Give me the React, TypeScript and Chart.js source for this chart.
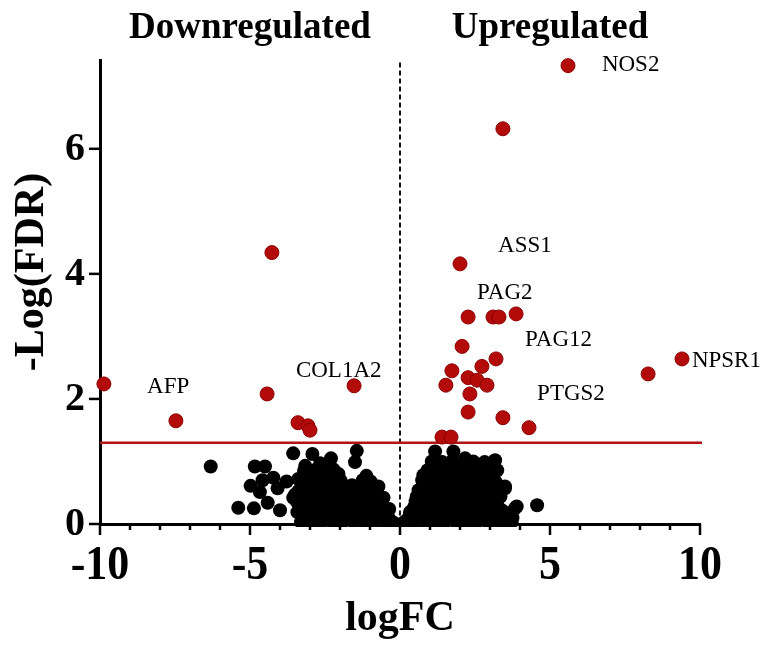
import { useEffect, useRef } from "react";
import { Chart, registerables } from "chart.js";

Chart.register(...registerables);

// ---------- data ----------
const xTickValues = [-10, -5, 0, 5, 10];
const yTickValues = [0, 2, 4, 6];
const fdrThreshold = 1.3;

const downregulated: [number, number][] = [
  [-9.87, 2.24], [-7.47, 1.65], [-4.27, 4.34], [-4.43, 2.08],
  [-3.4, 1.62], [-3.07, 1.57], [-3.0, 1.5], [-1.53, 2.21],
];

const upregulated: [number, number][] = [
  [5.6, 7.33], [3.43, 6.32], [2.0, 4.16], [2.27, 3.31], [3.1, 3.31], [3.3, 3.31],
  [3.87, 3.36], [2.07, 2.84], [3.2, 2.64], [1.73, 2.45], [2.73, 2.52], [1.53, 2.22],
  [2.27, 2.34], [2.57, 2.3], [2.9, 2.22], [2.33, 2.08], [2.27, 1.79], [3.43, 1.7],
  [4.3, 1.54], [1.4, 1.39], [1.7, 1.39], [8.27, 2.4], [9.4, 2.64],
];

const notSignificantLeft: [number, number][] = [
  [-6.31, 0.92], [-5.39, 0.26], [-4.87, 0.25], [-4.84, 0.92], [-4.5, 0.92], [-4.98, 0.61],
  [-4.58, 0.7], [-4.22, 0.74], [-4.67, 0.51], [-4.41, 0.34], [-4.0, 0.22], [-4.08, 0.57],
  [-3.78, 0.68], [-3.56, 1.13], [-2.92, 1.12], [-3.39, 0.72], [-3.5, 0.47], [-2.3, 1.05],
  [-1.44, 1.17], [-1.5, 0.99], [-3.16, 0.93], [-1.12, 0.77], [-0.72, 0.6], [-0.55, 0.42],
  [-0.36, 0.24], [-3.56, 0.42], [-2.89, 0.01],
  [-3.3, 0.03], [-2.97, 0.02], [-2.61, 0.04], [-2.27, 0.03], [-1.93, 0.02], [-1.56, 0.04],
  [-1.22, 0.03], [-0.87, 0.02], [-0.52, 0.04], [-0.21, 0.02],
  [-3.15, 0.11], [-2.8, 0.12], [-2.45, 0.1], [-2.1, 0.11], [-1.75, 0.12], [-1.4, 0.1],
  [-1.05, 0.11], [-0.7, 0.12], [-0.38, 0.1],
  [-3.42, 0.19], [-3.12, 0.2], [-2.76, 0.18], [-2.43, 0.21], [-2.07, 0.19], [-1.72, 0.2],
  [-1.37, 0.18], [-1.03, 0.21], [-0.68, 0.19],
  [-3.28, 0.28], [-2.95, 0.27], [-2.6, 0.29], [-2.25, 0.28], [-1.9, 0.27], [-1.55, 0.29],
  [-1.2, 0.28], [-0.88, 0.27], [-0.6, 0.29],
  [-3.44, 0.36], [-3.13, 0.37], [-2.79, 0.35], [-2.46, 0.38], [-2.12, 0.36], [-1.76, 0.37],
  [-1.41, 0.35], [-1.07, 0.38], [-0.78, 0.36],
  [-3.25, 0.45], [-2.92, 0.46], [-2.58, 0.44], [-2.22, 0.45], [-1.88, 0.46], [-1.52, 0.44],
  [-1.18, 0.45], [-0.86, 0.46],
  [-3.38, 0.53], [-3.06, 0.54], [-2.72, 0.52], [-2.36, 0.55], [-2.02, 0.53], [-1.66, 0.52],
  [-1.31, 0.54], [-0.97, 0.53], [-1.6, 0.62],
  [-3.2, 0.62], [-2.85, 0.61], [-2.5, 0.63], [-2.15, 0.62], [-1.85, 0.6], [-1.12, 0.62],
  [-3.27, 0.69], [-2.94, 0.7], [-2.6, 0.68], [-2.26, 0.71], [-1.97, 0.69], [-1.24, 0.7],
  [-0.98, 0.68],
  [-3.05, 0.78], [-2.7, 0.79], [-2.38, 0.77], [-2.12, 0.78],
  [-3.2, 0.85], [-2.86, 0.86], [-2.52, 0.84], [-2.21, 0.87], [-2.05, 0.8], [-2.66, 0.97],
  [-2.45, 0.95],
];

const notSignificantRight: [number, number][] = [
  [0.14, 0.03], [0.46, 0.02], [0.81, 0.04], [1.14, 0.03], [1.49, 0.02], [1.86, 0.04],
  [2.21, 0.03], [2.54, 0.02], [2.91, 0.04], [3.26, 0.03], [3.58, 0.02],
  [0.3, 0.11], [0.62, 0.12], [0.98, 0.1], [1.32, 0.11], [1.68, 0.12], [2.03, 0.1],
  [2.38, 0.11], [2.72, 0.12], [3.08, 0.1], [3.42, 0.11],
  [0.36, 0.2], [0.66, 0.19], [1.01, 0.21], [1.34, 0.18], [1.71, 0.2], [2.04, 0.21],
  [2.41, 0.19], [2.74, 0.2], [3.09, 0.18], [3.42, 0.21],
  [0.48, 0.28], [0.82, 0.29], [1.17, 0.27], [1.52, 0.28], [1.88, 0.29], [2.22, 0.27],
  [2.58, 0.28], [2.92, 0.29], [3.28, 0.27],
  [0.52, 0.37], [0.82, 0.36], [1.16, 0.38], [1.51, 0.35], [1.84, 0.37], [2.21, 0.36],
  [2.56, 0.38], [2.88, 0.35], [3.19, 0.37],
  [0.68, 0.45], [1.0, 0.46], [1.34, 0.44], [1.68, 0.45], [2.03, 0.46], [2.38, 0.44],
  [2.72, 0.45], [3.05, 0.46], [3.35, 0.44],
  [0.62, 0.54], [0.94, 0.53], [1.31, 0.55], [1.64, 0.52], [2.01, 0.54], [2.36, 0.53],
  [2.69, 0.55], [3.04, 0.52], [3.33, 0.54],
  [0.8, 0.62], [1.12, 0.63], [1.48, 0.61], [1.82, 0.62], [2.18, 0.63], [2.53, 0.61],
  [2.87, 0.62], [3.2, 0.63],
  [0.74, 0.7], [1.09, 0.69], [1.46, 0.71], [1.79, 0.68], [2.16, 0.7], [2.51, 0.69],
  [2.84, 0.71], [3.18, 0.68],
  [0.98, 0.78], [1.3, 0.79], [1.66, 0.77], [2.02, 0.78], [2.38, 0.79], [2.72, 0.77],
  [3.08, 0.78],
  [0.92, 0.86], [1.24, 0.85], [1.61, 0.87], [1.96, 0.86], [2.31, 0.84], [2.64, 0.87],
  [2.99, 0.85], [3.24, 0.86],
  [1.12, 0.93], [1.48, 0.94], [1.84, 0.92], [2.2, 0.93], [2.58, 0.94], [2.92, 0.92],
  [1.06, 1.0], [1.41, 0.99], [1.74, 1.01], [2.06, 0.98], [2.44, 1.0], [2.82, 0.99], [3.14, 1.0],
  [1.17, 1.16], [1.78, 1.16], [2.17, 1.05], [3.17, 1.02], [0.78, 0.78], [3.5, 0.6],
  [3.17, 0.36], [3.89, 0.28], [4.57, 0.3], [3.72, 0.03], [0.33, 0.18], [0.56, 0.44],
  [3.5, 0.57], [3.83, 0.25], [3.75, 0.1], [3.22, 0.22], [3.13, 0.06],
];

const geneNames = ["NOS2", "ASS1", "PAG2", "PAG12", "NPSR1", "PTGS2", "AFP", "COL1A2"];
const geneLabelX = [6.73, 3.27, 2.57, 4.17, 9.73, 4.57, -8.43, -3.47];
const geneLabelY = [7.25, 4.35, 3.6, 2.85, 2.51, 1.98, 2.09, 2.35];

const SERIF = '"Liberation Serif", "Times New Roman", serif';

const overlayPlugin = {
  id: "volcanoOverlay",
  beforeDatasetsDraw(chart: any) {
    const { ctx, scales, chartArea } = chart;
    const x = scales.x;
    const y = scales.y;
    ctx.save();
    const x0 = x.getPixelForValue(0);
    ctx.strokeStyle = "#111";
    ctx.lineWidth = 2;
    ctx.setLineDash([5, 3]);
    ctx.beginPath();
    ctx.moveTo(x0, y.getPixelForValue(7.38));
    ctx.lineTo(x0, chartArea.bottom);
    ctx.stroke();
    ctx.setLineDash([]);
    const yt = y.getPixelForValue(fdrThreshold);
    ctx.strokeStyle = "#b01414";
    ctx.lineWidth = 2.5;
    ctx.beginPath();
    ctx.moveTo(x.getPixelForValue(-10), yt);
    ctx.lineTo(x.getPixelForValue(10) + 2, yt);
    ctx.stroke();
    ctx.restore();
  },
  afterDraw(chart: any) {
    const { ctx, scales, chartArea } = chart;
    const x = scales.x;
    const y = scales.y;
    ctx.save();
    ctx.fillStyle = "#000";
    ctx.strokeStyle = "#000";
    ctx.lineWidth = 2.5;
    for (let v = -10; v <= 10; v++) {
      const px = x.getPixelForValue(v);
      const len = xTickValues.includes(v) ? 11 : 6;
      ctx.beginPath();
      ctx.moveTo(px, chartArea.bottom);
      ctx.lineTo(px, chartArea.bottom + len);
      ctx.stroke();
    }
    for (const v of yTickValues) {
      const py = y.getPixelForValue(v);
      ctx.beginPath();
      ctx.moveTo(chartArea.left, py);
      ctx.lineTo(chartArea.left - 11, py);
      ctx.stroke();
    }
    // x tick labels
    ctx.font = `bold 44px ${SERIF}`;
    ctx.textAlign = "center";
    ctx.textBaseline = "middle";
    for (const v of xTickValues) {
      const px = x.getPixelForValue(v);
      ctx.save();
      ctx.translate(px, chartArea.bottom + 42);
      ctx.scale(1, 1.12);
      ctx.fillText(String(v), 0, 0);
      ctx.restore();
    }
    // y tick labels
    ctx.font = `bold 40px ${SERIF}`;
    ctx.textAlign = "right";
    for (const v of yTickValues) {
      const py = y.getPixelForValue(v);
      ctx.fillText(String(v), chartArea.left - 15, py + 1);
    }
    // axis titles
    ctx.font = `bold 42px ${SERIF}`;
    ctx.textAlign = "center";
    ctx.fillText("logFC", x.getPixelForValue(0), chartArea.bottom + 95);
    ctx.save();
    ctx.translate(32, 272);
    ctx.rotate(-Math.PI / 2);
    ctx.fillText("-Log(FDR)", 0, 0);
    ctx.restore();
    // region headers
    ctx.font = `bold 37px ${SERIF}`;
    ctx.textBaseline = "alphabetic";
    ctx.fillText("Downregulated", x.getPixelForValue(-5), 38);
    ctx.fillText("Upregulated", x.getPixelForValue(5), 38);
    // gene labels
    ctx.font = `23px ${SERIF}`;
    ctx.textAlign = "left";
    geneNames.forEach((name, i) => {
      ctx.fillText(name, x.getPixelForValue(geneLabelX[i]), y.getPixelForValue(geneLabelY[i]));
    });
    ctx.restore();
  },
};

export default function App() {
  const canvasRef = useRef<HTMLCanvasElement>(null);

  useEffect(() => {
    if (!canvasRef.current) return;
    const toPts = (arr: [number, number][]) => arr.map(([a, b]) => ({ x: a, y: b }));
    const chart = new Chart(canvasRef.current, {
      type: "scatter",
      data: {
        datasets: [
          {
            label: "Downregulated",
            data: toPts(downregulated),
            backgroundColor: "#b30a0a",
            borderColor: "#8c0000",
            borderWidth: 1,
            pointRadius: 7,
            clip: false as any,
          },
          {
            label: "Upregulated",
            data: toPts(upregulated),
            backgroundColor: "#b30a0a",
            borderColor: "#8c0000",
            borderWidth: 1,
            pointRadius: 7,
            clip: false as any,
          },
          {
            label: "Not significant",
            data: toPts([...notSignificantLeft, ...notSignificantRight]),
            backgroundColor: "#000",
            borderColor: "#000",
            borderWidth: 0,
            pointRadius: 7,
            clip: { left: false, right: false, top: false, bottom: 3 } as any,
          },
        ],
      },
      options: {
        animation: false,
        responsive: true,
        maintainAspectRatio: false,
        layout: { padding: { left: 100, right: 68, top: 60, bottom: 124 } },
        plugins: { legend: { display: false }, tooltip: { enabled: false } },
        scales: {
          x: {
            type: "linear",
            min: -10,
            max: 10,
            ticks: { display: false },
            grid: { display: false, drawTicks: false },
            border: { display: true, color: "#000", width: 3 },
          },
          y: {
            type: "linear",
            min: 0,
            max: 7.42,
            ticks: { display: false },
            grid: { display: false, drawTicks: false },
            border: { display: true, color: "#000", width: 3 },
          },
        },
      },
      plugins: [overlayPlugin],
    });
    return () => chart.destroy();
  }, []);

  return (
    <div style={{ position: "fixed", left: 0, top: 0, width: 768, height: 648, background: "#fff" }}>
      <canvas ref={canvasRef} />
    </div>
  );
}
